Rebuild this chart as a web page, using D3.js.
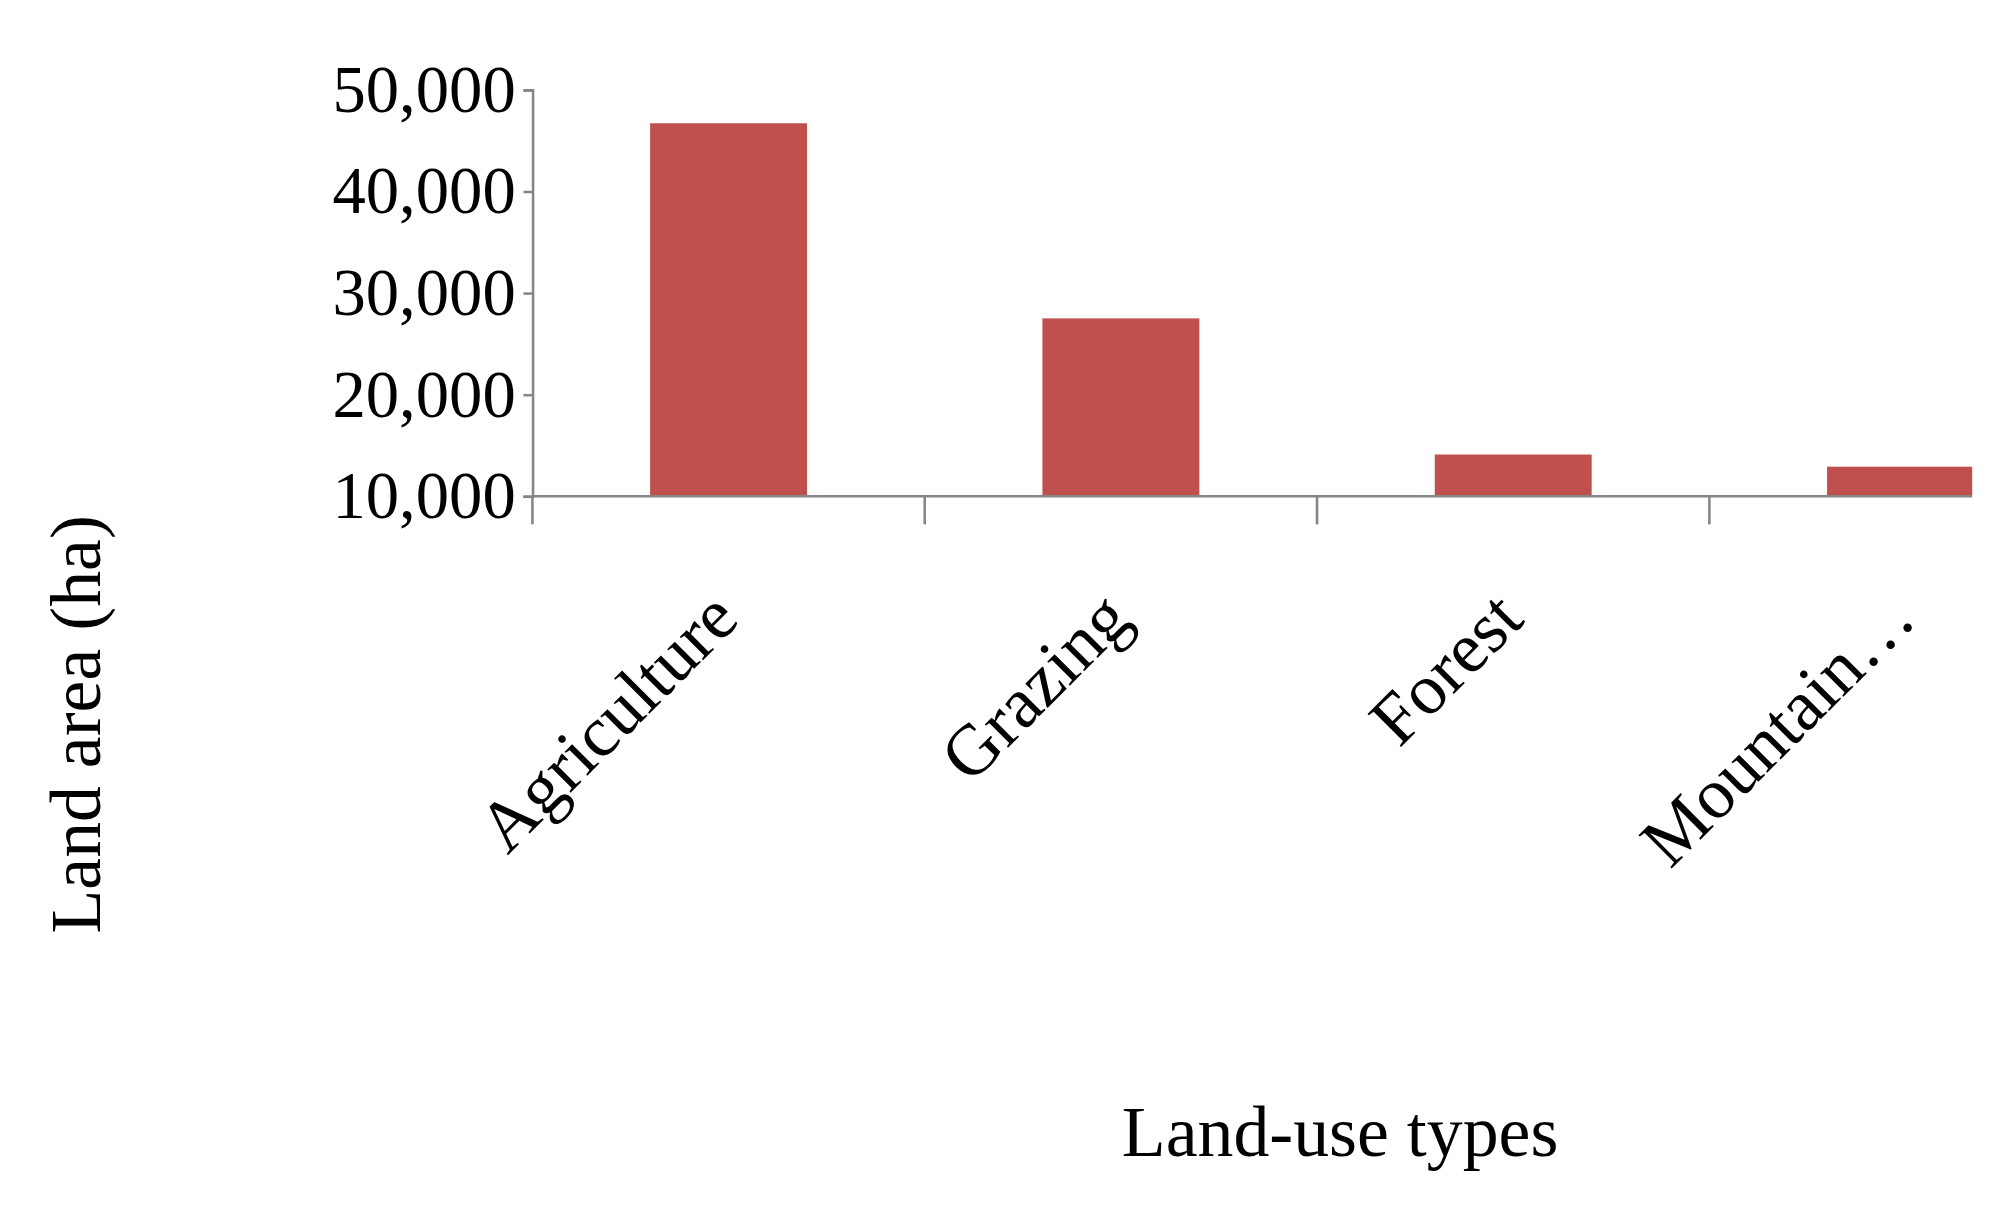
<!DOCTYPE html>
<html>
<head>
<meta charset="UTF-8">
<script src="https://d3js.org/d3.v7.min.js"></script>
<style>
  body { margin: 0; background: #fff; }
  text { font-family: "Liberation Serif", "DejaVu Serif", serif; fill: #000; }
</style>
</head>
<body>
<svg id="chart" width="2011" height="1209" viewBox="0 0 1568 943"></svg>
<script>
const categories = ["Agriculture", "Grazing", "Forest", "Mountain\u2026"];
const areas = [46700, 27500, 14100, 12900];
const yTicks = [10000, 20000, 30000, 40000, 50000];

const svg = d3.select("#chart");
const plotLeft = 415, plotTop = 70, plotBottom = 387, step = 306;

const x = d3.scaleBand().domain(categories).range([plotLeft, plotLeft + step * 4]).paddingInner(0.6).paddingOuter(0.3);
const y = d3.scaleLinear().domain([10000, 50000]).range([plotBottom, plotTop]);

// clip at right edge like the reference
svg.append("clipPath").attr("id", "c").append("rect").attr("x", 0).attr("y", 0).attr("width", 1538).attr("height", 943);

svg.append("g").attr("clip-path", "url(#c)").selectAll("rect").data(areas).enter().append("rect")
  .attr("x", (d, i) => x(categories[i]))
  .attr("width", x.bandwidth())
  .attr("y", d => y(d))
  .attr("height", d => plotBottom - y(d))
  .attr("fill", "#c0504d");

// y axis
const ya = svg.append("g").attr("transform", `translate(${plotLeft},0)`)
  .call(d3.axisLeft(y).tickValues(yTicks).tickFormat(d3.format(",")).tickSize(7).tickPadding(6));
ya.selectAll("text").style("font-size", "52px").style("font-family", "Liberation Serif, serif");
ya.select(".domain").attr("stroke", "#868686").attr("stroke-width", 2);
ya.selectAll(".tick line").attr("stroke", "#868686").attr("stroke-width", 2);

// x axis line and ticks
svg.append("line").attr("x1", plotLeft).attr("x2", 1538).attr("y1", plotBottom).attr("y2", plotBottom)
  .attr("stroke", "#868686").attr("stroke-width", 2);
svg.selectAll(".xt").data(d3.range(4)).enter().append("line")
  .attr("x1", i => plotLeft + i * step).attr("x2", i => plotLeft + i * step)
  .attr("y1", plotBottom).attr("y2", plotBottom + 22)
  .attr("stroke", "#868686").attr("stroke-width", 2);

// category labels
svg.selectAll(".cl").data(categories).enter().append("text")
  .attr("text-anchor", "end")
  .style("font-size", "56px")
  .attr("transform", d => `translate(${x(d) + x.bandwidth() / 2 + 10},${plotBottom + 98}) rotate(-45)`)
  .text(d => d);

svg.append("text").attr("text-anchor", "middle").style("font-size", "56px")
  .attr("transform", "translate(78,565) rotate(-90)").text("Land area (ha)");
svg.append("text").attr("text-anchor", "middle").style("font-size", "56px")
  .attr("x", 1045).attr("y", 902).text("Land-use types");
</script>
</body>
</html>
